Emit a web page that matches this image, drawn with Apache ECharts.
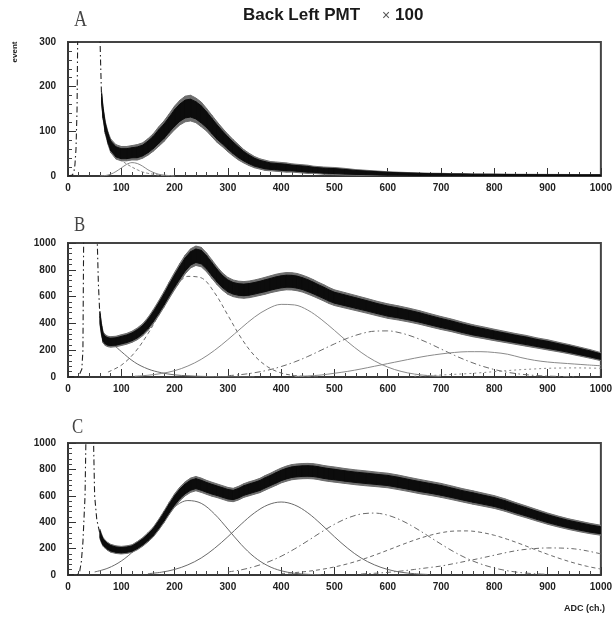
<!DOCTYPE html>
<html><head><meta charset="utf-8">
<script src="https://cdn.jsdelivr.net/npm/echarts@6/dist/echarts.min.js"></script>
<style>html,body{margin:0;padding:0;background:#fff}#c{width:615px;height:618px}</style>
</head><body><div id="c"></div>
<script>
// ---------- histogram bins (ADC channel) ----------
const histBins = [60,63,66,70,75,80,90,
  100,110,120,130,140,150,160,170,180,190,200,210,220,230,240,250,260,270,280,290,300,
  310,320,330,340,350,360,370,380,390,400,410,420,430,440,450,460,470,480,490,500,
  520,540,560,580,600,620,640,660,680,700,720,740,760,780,800,820,840,860,880,900,920,940,960,980,1000];

// ---------- panel A (counts, band half-width) ----------
const histA = [null,175,140,108,85,68,54,
  50,50,52,53,57,65,75,88,100,115,130,142,150,152,147,138,126,112,98,86,74,
  63,53,44,37,31,27,24,22,21,20,19,18,17,16,15,14,13,12,11.5,11,
  9.5,8,7,6,5,4.5,4,3.5,3,3,2.5,2.5,2,2,2,1.8,1.6,1.5,1.4,1.3,1.2,1.1,1,1,1];
const spreadA = [null,12,12,12,12,13,14,
  14,14,14,15,15,16,17,19,20,21,23,24,25,25,24,24,22,21,20,18,17,
  16,15,13,12,11,10,10,9,9,9,9,8,8,8,8,7,7,7,7,7,
  6.5,5.5,5,4.5,4,3.5,3.2,3,2.8,2.6,2.5,2.4,2.3,2.2,2.1,2,2,2,2,2,2,2,2,2,2];

// ---------- panel B ----------
const histB = [440,350,295,275,265,262,265,
  275,285,300,322,352,395,450,512,578,648,716,780,840,885,905,895,856,805,755,712,680,
  662,653,650,654,662,671,681,692,702,710,715,714,708,697,682,665,646,628,608,592,
  572,552,532,511,492,478,462,444,423,403,385,364,345,330,314,299,284,270,254,240,224,208,190,172,152];
const spreadB = [44,39,36,35,34,34,34,
  35,35,36,38,39,42,45,48,50,53,56,59,61,62,63,63,61,60,58,56,55,
  54,54,54,54,54,54,55,55,56,56,56,56,56,55,55,54,53,53,52,51,
  50,49,48,47,47,46,45,44,43,42,41,40,39,38,37,36,35,35,33,33,31,30,29,28,26];

// ---------- panel C ----------
const histC = [310,275,250,232,215,203,192,
  188,192,200,222,250,285,325,380,440,505,565,615,653,680,692,680,664,650,638,625,612,
  606,620,640,653,665,678,698,716,735,754,768,779,784,787,788,786,780,772,766,761,
  750,740,732,724,716,702,686,670,656,641,623,604,587,570,553,530,503,478,452,427,405,385,368,352,339];
const spreadC = [32,30,28,27,26,26,25,
  25,25,25,27,28,30,32,35,38,40,43,45,46,47,47,47,46,46,45,45,45,
  44,45,45,46,46,47,48,48,49,49,50,50,50,50,50,50,50,50,50,50,
  49,49,49,48,48,48,47,47,46,46,45,44,44,43,42,41,40,39,38,37,36,35,35,34,33];

// ---------- pedestal edges [ADC, counts] ----------
const pedA = [[0,0],[8,2],[11,8],[13,25],[15,60],[17,150],[19,420],[58,420],[61,262],[63,175]];
const pedB = [[0,0],[15,1],[20,4],[23,15],[26,60],[28,200],[30,1400],[53,1400],[55,1000],[57,700],[60,440]];
const pedC = [[0,0],[15,1],[19,5],[22,30],[25,100],[28,250],[32,600],[35,1400],[46,1400],[48,1000],[50,600],[54,420],[60,310]];

// ---------- fit components ----------
const fitAX = [60,70,80,90,100,110,120,130,140,150,160,170,180,200];
const fitA1 = [0,1,4,10,18,26,30,28,22,14,8,4,2,0];
const fitA2 = [null,null,null,45,35,27,20,14,9,6,4,2,1,0];

const fitX = [0,25,50,75,100,125,150,175,200,225,250,275,300,325,350,375,400,425,450,475,500,
  525,550,575,600,625,650,675,700,725,750,775,800,825,850,875,900,925,950,975,1000];
const fitB1 = [null,null,null,280,190,110,60,32,16,9,5,3,2,1,1];
const fitB2 = [null,null,null,37,88,182,323,496,657,751,740,629,461,291,159,75,30,11,3,1];
const fitB3 = [null,null,null,null,null,6,13,26,47,82,132,199,279,365,447,509,542,538,499,431,348,262,184,121,74,42,22,11,5];
const fitB4 = [null,null,null,null,null,null,null,null,null,null,null,null,
  10,18,32,51,78,112,153,200,247,290,323,342,344,328,297,256,209,162,120,84,56,35,21,12,7,4,2];
const fitB5 = [null,null,null,null,null,null,null,null,null,null,null,null,null,null,null,null,null,
  4,8,15,28,42,60,80,100,120,140,158,172,183,189,189,183,170,145,125,112,104,97,90,84];
const fitB6 = [null,null,null,null,null,null,null,null,null,null,null,null,null,null,null,null,null,null,null,null,null,null,null,null,null,null,
  6,10,15,20,25,32,40,48,55,60,65,67,68,67,65];

const fitC1 = [null,null,23,52,106,189,299,419,517,564,543,462,348,231,135,70,32,13,5,2];
const fitC2 = [null,null,null,null,null,null,
  10,21,42,77,129,202,290,385,471,531,553,531,471,385,290,202,129,77,42,21,10,4];
const fitC3 = [null,null,null,null,null,null,null,null,null,null,null,null,
  23,39,64,98,142,197,259,324,384,432,462,469,453,415,361,298,234,174,123,83,53,32,18,10,5];
const fitC4 = [null,null,null,null,null,null,null,null,null,null,null,null,null,null,null,null,
  11,18,28,42,61,85,115,150,188,227,264,296,320,333,334,323,301,270,234,195,157,122,91,65,45];
const fitC5 = [null,null,null,null,null,null,null,null,null,null,null,null,null,null,null,null,null,null,null,null,null,null,
  8,13,20,30,42,55,68,87,107,128,150,172,190,200,205,204,198,182,160];

// ---------- axes ----------
const xTicks = {min:0, max:1000, interval:100};
const yTicksA = {min:0, max:300, interval:100};
const yTicksBC = {min:0, max:1000, interval:200};

// ---------- build ----------
function pairs(xs, ys){
  const out=[];
  for(let i=0;i<xs.length;i++){ if(ys[i]!=null) out.push([xs[i], ys[i]]); }
  return out;
}
function bandData(bins, hist, spread, k){
  const out=[];
  for(let i=0;i<bins.length-1;i++){
    if(hist[i]==null||hist[i+1]==null) continue;
    out.push([bins[i],hist[i]-k*spread[i],hist[i]+k*spread[i],bins[i+1],hist[i+1]-k*spread[i+1],hist[i+1]+k*spread[i+1]]);
  }
  return out;
}
function bandSeries(idx, data, color, z){
  return {type:'custom', xAxisIndex:idx, yAxisIndex:idx, clip:true, z:z, silent:true,
    dimensions:['x0','l0','h0','x1','l1','h1'], encode:{x:[0,3], y:[1,2,4,5]},
    renderItem:function(params, api){
      const a=api.coord([api.value(0),api.value(1)]);
      const b=api.coord([api.value(3),api.value(4)]);
      const c=api.coord([api.value(3),api.value(5)]);
      const d=api.coord([api.value(0),api.value(2)]);
      return {type:'polygon', shape:{points:[a,b,c,d]}, style:{fill:color, stroke:color, lineWidth:1}};
    }, data:data};
}
function histSeries(idx, bins, hist, spread){
  return [bandSeries(idx, bandData(bins, hist, spread, 1.15), '#6e6e6e', 4),
          bandSeries(idx, bandData(bins, hist, spread, 0.8), '#0c0c0c', 5)];
}
function compSeries(idx, data, dash, color){
  return {type:'line', xAxisIndex:idx, yAxisIndex:idx, data:data, symbol:'none', smooth:0.35, clip:true, z:3, silent:true,
    lineStyle:{color:color||'#6a6a6a', width:1, type:dash}};
}
function pedSeries(idx, data){
  return {type:'line', xAxisIndex:idx, yAxisIndex:idx, data:data, symbol:'none', clip:true, z:6, silent:true,
    lineStyle:{color:'#222', width:1.1, type:[6,3,1.5,3]}};
}
const labelFont = {fontSize:10, fontWeight:'bold', color:'#222', fontFamily:'Liberation Sans', formatter:function(v){return String(v);}};
function xAxis(idx){
  return Object.assign({type:'value', gridIndex:idx,
    axisLine:{show:true, onZero:false, lineStyle:{color:'#333', width:1.5}},
    axisTick:{show:true, inside:true, length:8, lineStyle:{color:'#333', width:1}},
    minorTick:{show:true, splitNumber:5, length:4, lineStyle:{color:'#444', width:1}},
    splitLine:{show:false}, minorSplitLine:{show:false},
    axisLabel:Object.assign({margin:7, showMinLabel:true, showMaxLabel:true, hideOverlap:false}, labelFont)}, xTicks);
}
function yAxis(idx, t){
  return Object.assign({type:'value', gridIndex:idx,
    axisLine:{show:true, lineStyle:{color:'#333', width:1.5}},
    axisTick:{show:true, inside:true, length:8, lineStyle:{color:'#333', width:1}},
    minorTick:{show:true, splitNumber:5, length:4, lineStyle:{color:'#444', width:1}},
    splitLine:{show:false}, minorSplitLine:{show:false},
    axisLabel:Object.assign({margin:12, showMinLabel:true, showMaxLabel:true}, labelFont)}, t);
}
const gridStyle = {show:true, borderColor:'#444', borderWidth:2, left:68, right:11};

const option = {
  animation:false,
  backgroundColor:'#fff',
  grid:[
    Object.assign({top:42, height:134}, gridStyle),
    Object.assign({top:243, height:134}, gridStyle),
    Object.assign({top:443, height:132}, gridStyle)
  ],
  xAxis:[xAxis(0), xAxis(1), xAxis(2)],
  yAxis:[yAxis(0, yTicksA), yAxis(1, yTicksBC), yAxis(2, yTicksBC)],
  series:[].concat(
    compSeries(0, pairs(fitAX, fitA1), 'solid', '#888'),
    compSeries(0, pairs(fitAX, fitA2), [3,2], '#888'),
    histSeries(0, histBins, histA, spreadA),
    pedSeries(0, pedA),

    compSeries(1, pairs(fitX, fitB1), 'solid'),
    compSeries(1, pairs(fitX, fitB2), [4,3]),
    compSeries(1, pairs(fitX, fitB3), 'solid', '#8a8a8a'),
    compSeries(1, pairs(fitX, fitB4), [6,3,1.5,3]),
    compSeries(1, pairs(fitX, fitB5), 'solid', '#8a8a8a'),
    compSeries(1, pairs(fitX, fitB6), [2,3], '#8a8a8a'),
    histSeries(1, histBins, histB, spreadB),
    pedSeries(1, pedB),

    compSeries(2, pairs(fitX, fitC1), 'solid'),
    compSeries(2, pairs(fitX, fitC2), 'solid'),
    compSeries(2, pairs(fitX, fitC3), [6,3,1.5,3]),
    compSeries(2, pairs(fitX, fitC4), [4,3]),
    compSeries(2, pairs(fitX, fitC5), [5,3,1.5,3]),
    histSeries(2, histBins, histC, spreadC),
    pedSeries(2, pedC)
  ),
  graphic:[
    {type:'text', x:243, y:7, style:{text:'Back Left PMT', font:'bold 17px "Liberation Sans"', fill:'#1a1a1a', align:'left', verticalAlign:'top'}},
    {type:'text', x:382, y:9, style:{text:'×', font:'14px "Liberation Sans"', fill:'#555', align:'left', verticalAlign:'top'}},
    {type:'text', x:395, y:7, style:{text:'100', font:'bold 17px "Liberation Sans"', fill:'#1a1a1a', align:'left', verticalAlign:'top'}},
    {type:'text', x:74, y:8, scaleX:0.75, style:{text:'A', font:'24px "Liberation Serif"', fill:'#444', align:'left', verticalAlign:'top'}},
    {type:'text', x:74, y:215, scaleX:0.8, style:{text:'B', font:'21px "Liberation Serif"', fill:'#444', align:'left', verticalAlign:'top'}},
    {type:'text', x:72, y:417, scaleX:0.8, style:{text:'C', font:'21px "Liberation Serif"', fill:'#444', align:'left', verticalAlign:'top'}},
    {type:'text', x:15, y:52, rotation:Math.PI/2, style:{text:'event', font:'bold 8px "Liberation Sans"', fill:'#222', align:'center', verticalAlign:'middle'}},
    {type:'text', x:605, y:609, style:{text:'ADC (ch.)', font:'bold 9px "Liberation Sans"', fill:'#222', align:'right', verticalAlign:'middle'}}
  ]
};
const chart = echarts.init(document.getElementById('c'), null, {renderer:'canvas'});
chart.setOption(option);
</script>
</body></html>
